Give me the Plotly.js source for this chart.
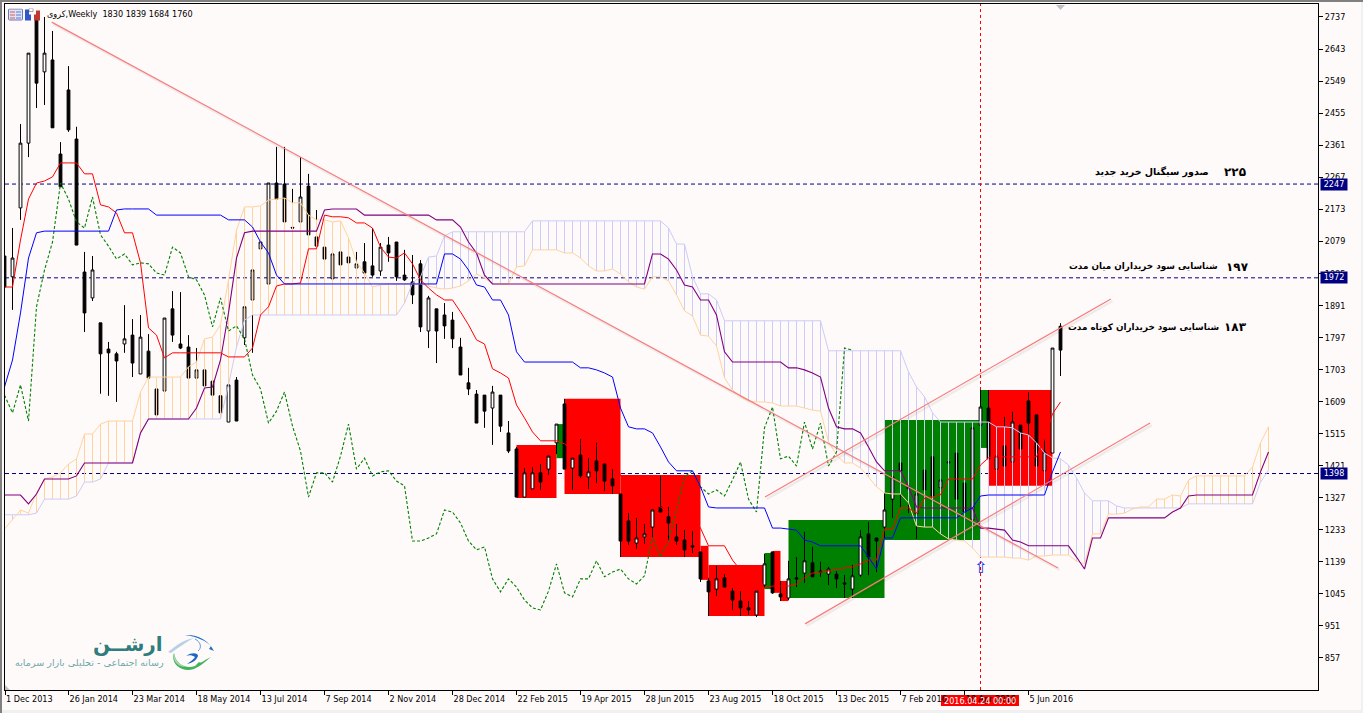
<!DOCTYPE html>
<html><head><meta charset="utf-8">
<script src="https://cdn.plot.ly/plotly-3.0.1.min.js"></script>
<style>
html,body{margin:0;padding:0;width:1363px;height:713px;overflow:hidden;background:#f0f0f0}
#top{position:absolute;left:0;top:0;width:1363px;height:2px;background:#808080}
#lft{position:absolute;left:0;top:0;width:2px;height:713px;background:#808080}
#chart{position:absolute;left:2px;top:2px;width:1359px;height:708px}
</style></head><body><div id="top"></div><div id="lft"></div><div id="chart"></div>
<script>
const open_ =[2036,1975,2177,2367,2728,2576,2611,2335,2523,2379,1989,1913,1840,1763,1749,1778,1804,1690,1757,1646,1640,1881,1778,1769,1678,1702,1669,1626,1549,1672,1796,1907,2057,1954,2250,2247,2120,2136,2241,2092,2062,1969,2048,2033,2001,2019,2007,1992,2068,2077,1980,1960,2013,1816,1881,1863,1848,1769,1664,1631,1628,1590,1628,1517,1470,1329,1353,1400,1411,1488,1602,1414,1452,1388,1435,1426,1382,1338,1259,1194,1212,1241,1300,1271,1212,1203,1186,1168,1083,1059,1092,1053,1024,1004,983,1071,1168,1045,1033,1092,1106,1136,1112,1103,1103,1077,1059,1100,1221,1209,1241,1323,1429,1353,1280,1408,1447,1356,1429,1458,1370,1262,1540,1590,1411,1479,1432,1540,1611,1570,1406,1458,1830];
const high_ =[2054,2118,2423,2631,2740,2737,2696,2370,2593,2415,2048,2036,1840,1784,1755,1892,1851,1863,1807,1672,1854,1933,1930,1804,1766,1725,1702,1696,1702,1681,1887,2039,2165,2250,2356,2356,2233,2326,2277,2171,2101,2048,2065,2062,2048,2074,2118,2074,2092,2077,2054,2039,2024,1919,1881,1898,1872,1796,1708,1643,1628,1655,1628,1552,1476,1414,1417,1426,1449,1543,1617,1443,1499,1443,1488,1426,1411,1338,1282,1268,1250,1291,1391,1300,1250,1232,1229,1168,1092,1127,1103,1062,1053,1024,1053,1162,1168,1083,1142,1153,1227,1183,1139,1124,1112,1100,1130,1232,1256,1209,1403,1432,1555,1417,1338,1432,1447,1379,1432,1458,1379,1532,1643,1643,1520,1564,1579,1540,1637,1570,1499,1766,1839];
const low_  =[1936,1878,2142,2326,2470,2479,2412,2239,2400,2068,1813,1904,1632,1626,1608,1752,1681,1690,1664,1570,1637,1784,1763,1678,1672,1655,1611,1573,1549,1552,1775,1752,1995,1954,2200,2136,2115,2092,2098,2062,1989,1942,1995,1995,1966,1972,1975,1978,2019,1963,1963,1895,1813,1766,1722,1793,1766,1687,1628,1546,1532,1482,1520,1458,1329,1329,1353,1350,1394,1455,1411,1350,1385,1353,1370,1347,1338,1153,1189,1177,1191,1209,1285,1200,1189,1153,1165,1080,980,1039,1065,998,980,983,977,1062,1045,1024,1027,1065,1077,1095,1095,1071,1062,1033,1033,1095,1100,1109,1209,1268,1300,1282,1206,1300,1282,1300,1341,1282,1271,1247,1473,1441,1359,1379,1403,1417,1447,1362,1359,1458,1684];
const close_=[1945,2030,2367,2631,2543,2631,2412,2239,2406,2068,1869,1995,1749,1752,1728,1793,1722,1798,1678,1570,1854,1804,1766,1678,1702,1655,1628,1576,1658,1552,1887,1995,2077,2250,2203,2136,2118,2209,2098,2065,2027,2042,2010,2016,2013,1986,1980,2062,2045,1975,1966,1922,1828,1913,1816,1831,1793,1687,1646,1546,1581,1637,1537,1464,1329,1400,1400,1373,1449,1543,1411,1443,1391,1403,1406,1376,1362,1200,1200,1209,1221,1291,1285,1253,1200,1174,1183,1089,1051,1089,1065,1027,1004,998,1053,1133,1048,1036,1089,1089,1142,1095,1109,1118,1089,1074,1098,1212,1153,1200,1291,1388,1406,1359,1338,1350,1332,1379,1432,1323,1285,1532,1593,1441,1449,1420,1549,1470,1546,1420,1461,1766,1760];

const tenkan=[1945,1945,2083,2203,2250,2256,2268,2309,2309,2309,2277,2277,2186,2180,2162,2104,2104,2016,1825,1804,1737,1752,1752,1752,1752,1752,1752,1752,1740,1740,1740,1766,1863,1887,1948,1954,1954,1957,2057,2057,2156,2151,2151,2148,2133,2133,2118,2062,2033,2030,2045,2013,1966,1942,1922,1907,1907,1872,1834,1790,1778,1705,1693,1678,1599,1561,1520,1494,1494,1494,1485,1467,1485,1485,1479,1476,1482,1391,1370,1329,1329,1312,1300,1285,1276,1271,1271,1238,1186,1186,1186,1144,1115,1109,1103,1062,1068,1068,1068,1074,1092,1106,1109,1112,1118,1121,1124,1133,1144,1144,1235,1235,1297,1297,1282,1326,1329,1335,1382,1382,1382,1382,1423,1444,1447,1447,1447,1447,1447,1447,1499,1573,1608];
const kijun=[1652,1731,1869,2030,2104,2109,2109,2109,2109,2109,2109,2109,2109,2109,2171,2174,2174,2174,2174,2156,2156,2156,2156,2156,2156,2156,2156,2156,2142,2142,2142,2121,2077,2045,1980,1954,1954,1954,1954,1954,1954,1954,1954,1954,1954,1954,1954,1954,1954,1954,1954,1954,1954,1954,1954,2042,2042,2027,1995,1951,1945,1907,1907,1863,1755,1725,1725,1725,1725,1725,1725,1725,1708,1708,1702,1693,1681,1590,1535,1529,1529,1517,1476,1432,1406,1406,1406,1359,1300,1297,1297,1297,1297,1297,1297,1297,1238,1238,1235,1232,1203,1197,1186,1186,1186,1186,1186,1186,1153,1118,1209,1209,1268,1268,1268,1268,1268,1268,1268,1268,1285,1297,1332,1335,1335,1335,1335,1335,1335,1335,1335,1403,1461];
const laggedKijun=[1335,1335,1335,1309,1338,1382,1382,1382,1382,1391,1429,1429,1429,1429,1429,1429,1429,1517,1558,1558,1558,1558,1558,1558,1590,1649,1652,1731,1869,2030,2104,2109,2109,2109,2109,2109,2109,2109,2109,2109,2171,2174,2174,2174,2174,2156,2156,2156,2156,2156,2156,2156,2156,2156,2142,2142,2142,2121,2077,2045,1980,1954,1954,1954,1954,1954,1954,1954,1954,1954,1954,1954,1954,1954,1954,1954,1954,1954,1954,1954,1954,2042,2042,2027,1995,1951,1945,1907,1907,1863,1755,1725,1725,1725,1725,1725,1725,1725,1708,1708,1702,1693,1681,1590,1535,1529,1529,1517,1476,1432,1406,1406,1406,1359,1300,1297,1297,1297,1297,1297,1297,1297,1238,1238,1235,1232,1203,1197,1186,1186,1186,1186,1186,1186,1153,1118,1209,1209,1268,1268,1268,1268,1268,1268,1268,1268,1285,1297,1332,1335,1335,1335,1335,1335,1335,1335,1335,1403,1461];
const spanA=[1235,1262,1291,1282,1341,1382,1388,1400,1426,1441,1514,1514,1543,1552,1552,1552,1552,1637,1681,1681,1681,1681,1681,1711,1725,1793,1798,1834,1966,2112,2180,2180,2183,2200,2203,2206,2192,2192,2156,2142,2142,2136,2139,2089,2019,1986,1945,1951,1954,1954,1954,1954,1954,1948,1942,1939,1942,1948,1963,1983,1972,1954,1954,1954,2004,2007,2054,2054,2054,2054,2045,2045,2030,2007,1992,1992,1998,1983,1960,1945,1939,1975,1975,1963,1922,1875,1860,1804,1801,1772,1678,1643,1623,1611,1608,1608,1605,1596,1596,1596,1590,1584,1581,1491,1452,1429,1429,1414,1388,1359,1341,1338,1338,1312,1244,1241,1241,1221,1206,1203,1200,1180,1153,1153,1153,1153,1150,1150,1144,1156,1156,1159,1159,1159,1141,1133,1221,1221,1279,1279,1282,1294,1300,1300,1323,1323,1335,1332,1379,1391,1391,1391,1391,1391,1391,1391,1417,1488,1535];
const spanB=[1277,1277,1277,1277,1282,1323,1323,1323,1323,1332,1373,1373,1382,1429,1429,1429,1429,1517,1558,1558,1558,1558,1558,1558,1558,1558,1558,1558,1658,1769,1848,1863,1863,1863,1863,1863,1863,1863,1863,1863,1863,1863,1863,1863,1863,1863,1863,1863,1863,1863,1898,1957,1975,2033,2036,2095,2107,2107,2107,2107,2107,2107,2107,2107,2107,2107,2139,2139,2139,2139,2139,2139,2139,2139,2139,2139,2139,2139,2139,2139,2139,2139,2139,2118,2071,2071,1975,1925,1925,1907,1846,1846,1846,1846,1846,1846,1846,1846,1846,1846,1846,1846,1846,1758,1758,1758,1758,1758,1758,1758,1758,1758,1758,1696,1652,1623,1576,1549,1549,1549,1549,1549,1549,1549,1535,1535,1532,1517,1511,1488,1458,1444,1441,1423,1385,1341,1318,1318,1318,1303,1297,1297,1297,1297,1297,1297,1297,1297,1309,1309,1309,1309,1309,1309,1309,1309,1309,1373,1408];
const chikou=[1628,1576,1658,1552,1887,1995,2077,2250,2203,2136,2118,2209,2098,2065,2027,2042,2010,2016,2013,1986,1980,2062,2045,1975,1966,1922,1828,1913,1816,1831,1793,1687,1646,1546,1581,1637,1537,1464,1329,1400,1400,1373,1449,1543,1411,1443,1391,1403,1406,1376,1362,1200,1200,1209,1221,1291,1285,1253,1200,1174,1183,1089,1051,1089,1065,1027,1004,998,1053,1133,1048,1036,1089,1089,1142,1095,1109,1118,1089,1074,1098,1212,1153,1200,1291,1388,1406,1359,1338,1350,1332,1379,1432,1323,1285,1532,1593,1441,1449,1420,1549,1470,1546,1420,1461,1766,1760];

const levels=[2247,1972,1398];
const levelLabels=['2247','1972','1398'];
const cursorBar=122;
const trendBars=[[5.9,131.7],[95.06,138.3],[100.06,143.2]];
const trendPrices=[[2722,1121],[1329,1910],[957,1546]];
const boxStart=[64,69,70,77,87,88,95,96,97,98,110,122,123];
const boxEnd  =[69,70,77,87,88,95,96,97,98,110,122,123,131];
const boxTop  =[1482,1543,1617,1394,1186,1130,1165,1171,1083,1262,1555,1643,1643];
const boxBottom=[1326,1443,1338,1153,1086,980,1059,1048,1024,1033,1203,1473,1362];
const boxColor=['#ff0000','#008000','#ff0000','#ff0000','#ff0000','#ff0000','#008000','#ff0000','#ff0000','#008000','#008000','#008000','#ff0000'];
const yTicks=[2737,2643,2549,2455,2361,2267,2173,2079,1985,1891,1797,1703,1609,1515,1421,1327,1233,1139,1045,951,857];
const xTicks=[0.07,8,16,24,32,40,48,56,64,72,80,88,96,104,112,120,128];
const xLabels=['1 Dec 2013','26 Jan 2014','23 Mar 2014','18 May 2014','13 Jul 2014','7 Sep 2014','2 Nov 2014','28 Dec 2014','22 Feb 2015','19 Apr 2015','28 Jun 2015','23 Aug 2015','18 Oct 2015','13 Dec 2015','7 Feb 2016','10 Apr 2016','5 Jun 2016'];

const NARROW='"DejaVu Sans Condensed","Liberation Sans",sans-serif';
const ORANGE='#ffd39e', LAV='#ccccf6';
const idx=a=>a.map((_,i)=>i);
const px=x=>(x-5)/(1318-5), py=y=>(690-y)/(690-4);

const hx={o:[],l:[]},hy={o:[],l:[]};
spanA.forEach((a,i)=>{const k=a>=spanB[i]?'o':'l';hx[k].push(i,i,null);hy[k].push(a,spanB[i],null);});
const line=(x,y,color,width,dash)=>({type:'scatter',mode:'lines',x,y,hoverinfo:'skip',line:{color,width:width||1,dash:dash||'solid',shape:'linear'}});

const traces=[
 line(hx.o,hy.o,ORANGE,1), line(hx.l,hy.l,LAV,1),
 line(idx(spanB),spanB,LAV,1), line(idx(spanA),spanA,ORANGE,1),
 line(idx(chikou),chikou,'#008000',1.1,'3px,2px'),
 line(idx(laggedKijun),laggedKijun,'#800080',1.1),
 line(idx(tenkan),tenkan,'#ff0000',1),
 line(idx(kijun),kijun,'#0000ff',1)
];
trendBars.forEach((b,k)=>{
 traces.push(line(b.map(v=>v+0.2),trendPrices[k].map(v=>v-6),'rgba(0,0,0,0.06)',2.5));
 traces.push(line(b,trendPrices[k],'#f87c7c',1.2));
});
traces.push({type:'candlestick',x:idx(open_),open:open_,high:high_,low:low_,close:close_,whiskerwidth:0,hoverinfo:'skip',
 increasing:{line:{color:'#000',width:1},fillcolor:'#fff'},decreasing:{line:{color:'#000',width:1},fillcolor:'#000'}});

const shapes=[];
boxStart.forEach((s,i)=>shapes.push({type:'rect',layer:'below',xref:'x',yref:'y',x0:s,x1:boxEnd[i],y0:boxBottom[i],y1:boxTop[i],fillcolor:boxColor[i],line:{width:0}}));
levels.forEach(v=>shapes.push({type:'line',layer:'below',xref:'paper',yref:'y',x0:0,x1:1,y0:v,y1:v,line:{color:'#000080',width:1,dash:'4px,3px'}}));
shapes.push({type:'line',layer:'below',xref:'x',yref:'paper',x0:cursorBar,x1:cursorBar,y0:0,y1:1,line:{color:'#ff0000',width:1,dash:'3px,3px'}});
const poly=(pts,c,layer)=>({type:'path',layer:layer||'above',xref:'paper',yref:'paper',fillcolor:c,line:{width:0},path:'M'+pts.map(p=>px(p[0])+','+py(p[1])).join('L')+'Z'});
shapes.push(poly([[5,685],[10,690],[5,690]],'#c0c0c0'));
shapes.push(poly([[1056,5],[1065,5],[1060.5,10]],'#c0c0c0'));
shapes.push(poly([[941,695],[1019,695],[1019,706],[941,706]],'#ff0000','below'));

const ann=[];
const T=(text,x,y,o)=>ann.push(Object.assign({text,xref:'paper',yref:'paper',x:px(x),y:py(y),showarrow:false,xanchor:'left',yanchor:'middle',borderpad:0,font:{family:NARROW,size:9,color:'#000'}},o||{}));
T('کروی,Weekly  1830 1839 1684 1760',46,14.5);
const B='"DejaVu Sans",sans-serif';
T('صدور سیگنال خرید جدید',1210,172,{xanchor:'right',font:{family:B,size:9.5,color:'#000',weight:700}});
T('۲۲۵',1247,172,{xanchor:'right',font:{family:B,size:12,color:'#000',weight:700}});
T('شناسایی سود خریداران میان مدت',1219,267,{xanchor:'right',font:{family:B,size:8.8,color:'#000',weight:700}});
T('۱۹۷',1250,267,{xanchor:'right',font:{family:B,size:12,color:'#000',weight:700}});
T('شناسایی سود خریداران کوتاه مدت',1220,327,{xanchor:'right',font:{family:B,size:8.8,color:'#000',weight:700}});
T('۱۸۳',1248,327,{xanchor:'right',font:{family:B,size:12,color:'#000',weight:700}});
T('ارشــن',164,644,{xanchor:'right',font:{family:B,size:20,color:'#2f7d7d',weight:700}});
T('رسانه اجتماعی - تحلیلی بازار سرمایه',165,662,{xanchor:'right',font:{family:B,size:9.6,color:'#6fa8a8'}});
T('2016.04.24 00:00',980,700.5,{xanchor:'center',font:{family:NARROW,size:9,color:'#fff'}});
T('⇧',980.5,567,{xanchor:'center',font:{family:B,size:16,color:'#1030f0'}});
levels.forEach((v,i)=>ann.push({text:levelLabels[i],xref:'paper',yref:'y',x:px(1334),y:v,showarrow:false,xanchor:'center',yanchor:'middle',bgcolor:'#000080',width:26,height:10.5,borderpad:0,font:{family:NARROW,size:9,color:'#fff'}}));

const icons='<svg xmlns="http://www.w3.org/2000/svg" width="34" height="13" viewBox="0 0 34 13"><rect x="0.5" y="0.5" width="14" height="11" rx="1" fill="#dfe4f5" stroke="#6c78b8"/><path d="M2 3h5v1H2zM2 6h5v1H2zM2 9h5v1H2z" fill="#e05a50"/><path d="M8 3h5v1H8zM8 6h5v1H8zM8 9h5v1H8z" fill="#5a78d8"/><path d="M17 1h4v5h2v6h-6z" fill="#3058c8"/><path d="M21 0h4v3h-4z" fill="#fff" stroke="#555" stroke-width=".5"/><path d="M26 6h2V2h4v10h-6z" fill="#c03830"/></svg>';
const bird='<svg xmlns="http://www.w3.org/2000/svg" width="47" height="37" viewBox="0 0 47 37"><path d="M0 18C8 12 14 6 26 4C18 8 10 14 3 19z" fill="#b9cfe8"/><path d="M17 1C28 0 40 5 46 17L41 15L43 12C38 7 30 3 17 1z" fill="#1f6fc0"/><path d="M27 5C33 8 34 14 30 17" fill="none" stroke="#5a9ad8" stroke-width="1"/><path d="M18 22C24 18 30 19 30 22C28 27 24 29 19 30C23 27 26 25 27 23C24 21 21 21 18 22z" fill="#1c68c0"/><path d="M6 19C2 30 14 39 26 35C31 33 37 28 43 23C36 26 33 30 31 28L27 32C18 35 8 31 6 19z" fill="#42b35a"/><path d="M6 19C7 27 12 31 18 33C10 33 4 27 6 19z" fill="#a8d8b0"/></svg>';
const uri=s=>'data:image/svg+xml;charset=utf-8,'+encodeURIComponent(s);
const images=[
 {source:uri(icons),xref:'paper',yref:'paper',x:px(8),y:py(8.5),sizex:34/1313,sizey:13/686,sizing:'stretch',xanchor:'left',yanchor:'top',layer:'above'},
 {source:uri(bird),xref:'paper',yref:'paper',x:px(168),y:py(634),sizex:47/1313,sizey:37/686,sizing:'stretch',xanchor:'left',yanchor:'top',layer:'above'}
];

const layout={
 width:1359,height:708,margin:{l:3,t:2,r:43,b:20,pad:0},
 paper_bgcolor:'#fffafa',plot_bgcolor:'#fffafa',showlegend:false,hovermode:false,dragmode:false,
 boxgap:0.5,
 xaxis:{type:'linear',range:[0.0625,164.1875],tickmode:'array',tickvals:xTicks,ticktext:xLabels,tickangle:0,ticks:'outside',ticklen:4,tickwidth:1,tickcolor:'#000',ticklabelposition:'outside right',
  showline:true,mirror:true,linecolor:'#000',linewidth:1,showgrid:false,zeroline:false,rangeslider:{visible:false},tickfont:{family:NARROW,size:9,color:'#000'},fixedrange:true,ticklabelstandoff:0},
 yaxis:{type:'linear',side:'right',range:[763.1,2775.1],tickmode:'array',tickvals:yTicks,ticktext:yTicks.map(String),ticks:'outside',ticklen:4,tickwidth:1,tickcolor:'#000',
  showline:true,mirror:true,linecolor:'#000',linewidth:1,showgrid:false,zeroline:false,tickfont:{family:NARROW,size:9,color:'#000'},fixedrange:true},
 shapes,annotations:ann,images
};
Plotly.newPlot('chart',traces,layout,{displayModeBar:false,staticPlot:true});
</script></body></html>
